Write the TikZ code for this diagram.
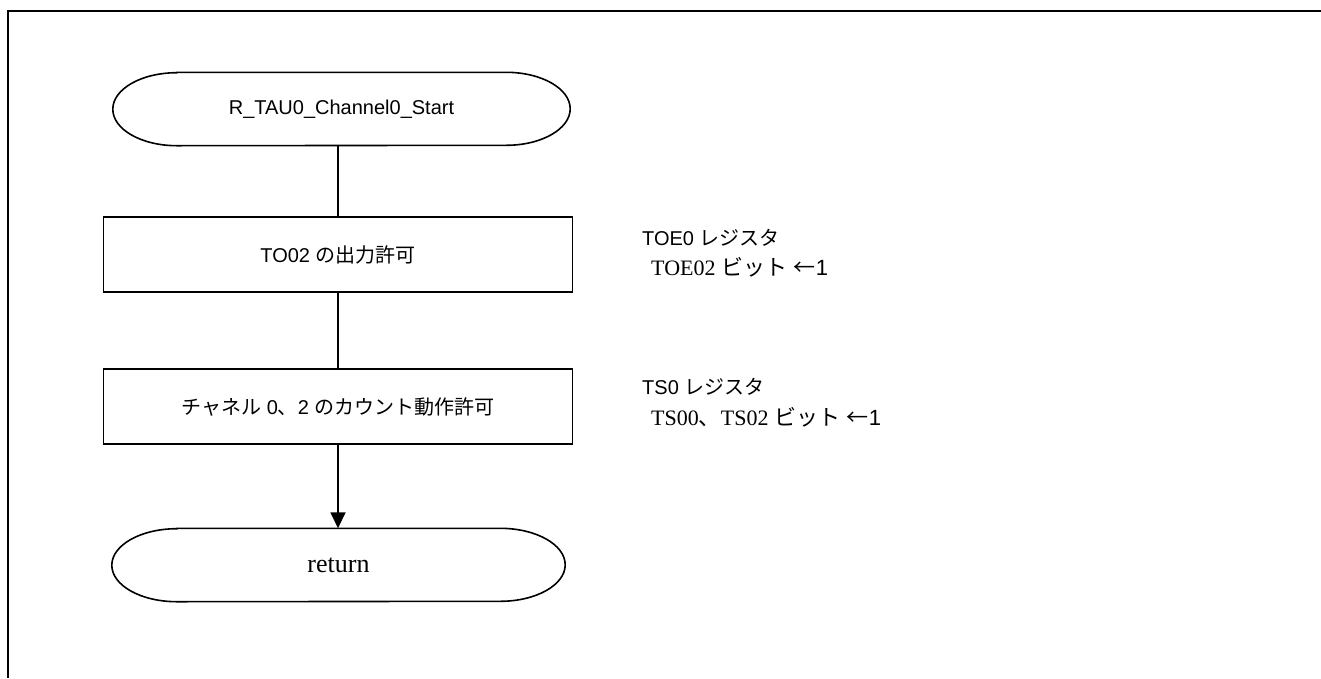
\documentclass[tikz,border=0pt]{standalone}
\usepackage{fontspec}
\setmainfont{Liberation Sans}
\newfontfamily\jp{Noto Sans CJK JP}
\newfontfamily\tms{Liberation Serif}
\usetikzlibrary{arrows.meta}
\newcommand\drawterm[2]{%
  \draw[shapeline] ([xshift=#2]#1.north west) -- ([xshift=-#2]#1.north east)
    arc[start angle=90,end angle=-90,x radius=#2,y radius=36.5pt]
    -- ([xshift=#2]#1.south west)
    arc[start angle=270,end angle=90,x radius=#2,y radius=36.5pt] -- cycle;}
\begin{document}
\begin{tikzpicture}[x=1pt,y=1pt,
  shapeline/.style={line width=1.6pt},
  term/.style={minimum width=455pt,minimum height=73pt,inner sep=0pt,font=\fontsize{20}{22}\selectfont},
  procbox/.style={draw,line width=1.6pt,minimum width=469pt,minimum height=75pt,inner sep=0pt,font=\fontsize{20}{22}\selectfont},
  hdr/.style={anchor=base west,inner sep=0pt,font=\fontsize{20}{22}\selectfont},
  bdy/.style={anchor=base west,inner sep=0pt,font=\fontsize{22}{24}\selectfont},
  conn/.style={line width=1.6pt}]
\useasboundingbox (0,0) rectangle (1321,-678);
\draw[line width=2.8pt] (8,-678) -- (8,-11) -- (1321,-11);
\node[term,minimum width=457pt] (start) at (341.5,-109) {\raisebox{-4pt}{R\_TAU0\_Channel0\_Start}};
\drawterm{start}{64pt}
\node[procbox] (b1) at (338,-254.5) {TO02 {\jp の出力許可}};
\node[procbox] (b2) at (338,-406.5) {{\jp チャネル} 0{\jp 、}2 {\jp のカウント動作許可}};
\node[term,minimum width=453pt,font=\fontsize{26}{28}\tms] (ret) at (338.5,-565) {\raisebox{-5pt}{return}};
\drawterm{ret}{65pt}
\draw[conn] (start.south -| b1.north) -- (b1.north);
\draw[conn] (b1.south) -- (b2.north);
\draw[conn,-{Triangle[width=15pt,length=16pt]}] (b2.south) -- (ret.north -| b2.south);
\node[hdr] (h1) at (642,-245) {TOE0 {\jp レジスタ}};
\node[bdy] (t1) at (651,-275.5) {{\tms TOE02} {\jp ビット} {\jp ←}1};
\node[hdr] (h2) at (642,-394) {TS0 {\jp レジスタ}};
\node[bdy] (t2) at (651,-425.5) {{\tms TS00}{\jp 、}{\tms TS02} {\jp ビット} {\jp ←}1};
\end{tikzpicture}
\end{document}
